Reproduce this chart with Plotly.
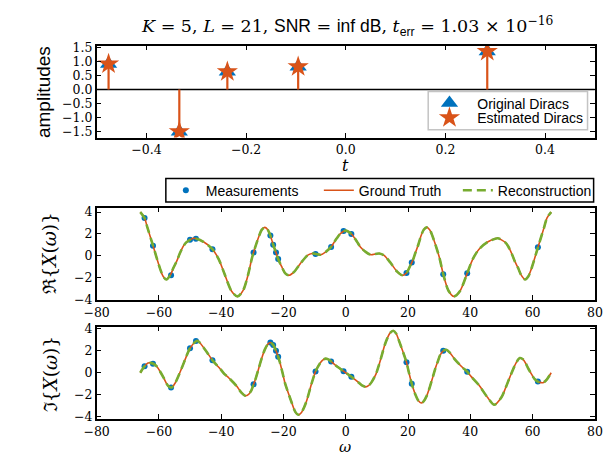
import plotly.graph_objects as go

# ---------------- data ----------------
dirac_t = [-0.476, -0.334, -0.2376, -0.0955, 0.284]
dirac_amp = [0.92, -1.52, 0.64, 0.82, 1.37]

re_w = [-65.97, -64.6, -63.7, -61.8, -59.6, -58.6, -57.6, -56.2, -55.4, -54.2, -53.3, -52.1,
        -51.3, -50.0, -48.8, -45.7, -42.8, -40.8, -39.0, -36.7, -34.75, -33.0, -31.35, -30.2,
        -29.6, -27.9, -27.0, -26.0, -25.1, -24.2, -23.3, -22.4, -21.7, -21.2, -20.6, -19.5,
        -18.25, -16.5, -14.5, -12.3, -10.8, -9.6, -8.0, -6.4, -4.7, -3.7, -3.0, -1.8, 0.0,
        1.8, 3.0, 3.7, 4.7, 6.4, 8.0, 9.6, 10.8, 12.3, 14.5, 16.5, 18.25, 19.5, 20.6, 21.2,
        21.7, 22.4, 23.3, 24.2, 25.1, 26.0, 27.0, 27.9, 29.6, 30.2, 31.35, 33.0, 34.75, 36.7,
        39.0, 40.8, 42.8, 45.7, 48.8, 50.0, 51.3, 52.1, 53.3, 54.2, 55.4, 56.2, 57.6, 58.6,
        59.6, 61.8, 63.7, 64.6, 65.97]
re_truth = [4.00, 3.45, 2.60, 0.85, -1.20, -1.90, -2.17, -1.70, -1.15, -0.45, 0.20, 0.90,
            1.20, 1.46, 1.60, 1.28, 0.60, -0.30, -1.60, -3.22, -3.72, -3.20, -1.73, -0.30,
            0.30, 1.77, 2.37, 2.60, 2.41, 1.85, 1.01, 0.30, -0.30, -0.62, -0.98, -1.58,
            -1.79, -1.45, -0.69, 0.03, 0.21, 0.17, 0.10, 0.36, 0.81, 1.25, 1.55, 2.00, 2.30,
            2.00, 1.55, 1.25, 0.81, 0.36, 0.10, 0.17, 0.21, 0.03, -0.69, -1.45, -1.79, -1.58,
            -0.98, -0.62, -0.30, 0.30, 1.01, 1.85, 2.41, 2.60, 2.37, 1.77, 0.30, -0.30, -1.73,
            -3.20, -3.72, -3.22, -1.60, -0.30, 0.60, 1.28, 1.60, 1.46, 1.20, 0.90, 0.20, -0.45,
            -1.15, -1.70, -2.17, -1.90, -1.20, 0.85, 2.60, 3.45, 4.00]

im_w = [-65.97, -64.6, -63.5, -62.8, -61.8, -60.6, -59.8, -58.5, -57.8, -57.0, -55.9, -54.7,
        -52.7, -51.3, -50.0, -47.7, -45.5, -42.7, -40.3, -39.0, -37.6, -35.1, -33.5, -32.3,
        -31.3, -30.3, -29.6, -29.0, -28.0, -27.0, -26.0, -25.0, -24.2, -23.35, -22.4, -21.7,
        -21.2, -20.3, -19.5, -18.0, -17.2, -16.2, -15.25, -14.2, -13.3, -12.5, -11.2, -10.5,
        -9.7, -8.3, -7.4, -6.4, -5.2, -4.3, -3.0, -1.8, -0.7, 0.0,
        0.7, 1.8, 3.0, 4.3, 5.2, 6.4, 7.4, 8.3, 9.7, 10.5, 11.2, 12.5, 13.3, 14.2, 15.25,
        16.2, 17.2, 18.0, 19.5, 20.3, 21.2, 21.7, 22.4, 23.35, 24.2, 25.0, 26.0, 27.0, 28.0,
        29.0, 29.6, 30.3, 31.3, 32.3, 33.5, 35.1, 37.6, 39.0, 40.3, 42.7, 45.5, 47.7, 50.0,
        51.3, 52.7, 54.7, 55.9, 57.0, 57.8, 58.5, 59.8, 60.6, 61.8, 62.8, 63.5, 64.6, 65.97]
im_truth = [0.00, 0.60, 0.88, 0.90, 0.82, 0.55, 0.20, -0.45, -0.85, -1.20, -1.34, -0.89,
            0.40, 1.40, 2.23, 2.91, 2.23, 1.10, 0.35, -0.10, -0.45, -1.19, -1.80, -2.08,
            -1.99, -1.60, -1.05, -0.60, 0.35, 1.30, 2.10, 2.60, 2.75, 2.55, 2.00, 1.45,
            1.00, 0.00, -0.95, -2.20, -2.83, -3.55, -3.82, -3.60, -3.10, -2.50, -1.20, -0.55,
            0.12, 0.85, 1.15, 1.28, 1.15, 0.93, 0.62, 0.37, 0.14, 0.00,
            -0.14, -0.37, -0.62, -0.93, -1.15, -1.28, -1.15, -0.85, -0.12, 0.55, 1.20, 2.50,
            3.10, 3.60, 3.82, 3.55, 2.83, 2.20, 0.95, 0.00, -1.00, -1.45, -2.00, -2.55, -2.75,
            -2.60, -2.10, -1.30, -0.35, 0.60, 1.05, 1.60, 1.99, 2.08, 1.80, 1.19, 0.45, 0.10,
            -0.35, -1.10, -2.23, -2.91, -2.23, -1.40, -0.40, 0.89, 1.34, 1.20, 0.85, 0.45,
            -0.20, -0.55, -0.82, -0.90, -0.88, -0.60, 0.00]

meas_w = [-64.6, -61.9, -56.1, -50.0, -48.1, -42.8, -29.6, -24.2, -23.3, -22.4, -21.7,
          -9.7, -4.7, -0.7, 1.8, 19.5, 21.2, 31.3, 39.0, 61.7]
meas_re = [3.45, 0.92, -1.79, 1.46, 1.57, 0.60, 0.30, 1.85, 1.01, 0.30, -0.30,
           0.17, 0.81, 2.26, 2.00, -1.58, -0.62, -1.68, -1.60, 0.78]
meas_im = [0.60, 0.82, -1.34, 2.23, 2.88, 1.13, -1.05, 2.75, 2.53, 2.00, 1.45,
           0.12, 1.03, 0.14, -0.37, 0.95, -1.00, 1.99, 0.10, -0.80]

x_ticks_t = [-0.4, -0.2, 0.0, 0.2, 0.4]
x_ticks_w = [-80, -60, -40, -20, 0, 20, 40, 60, 80]
y_ticks_amp = [-1.5, -1.0, -0.5, 0.0, 0.5, 1.0, 1.5]
y_ticks_x = [-4, -2, 0, 2, 4]

# ---------------- styling ----------------
BLUE = '#0072BD'
ORANGE = '#D95319'
GREEN = '#77AC30'
SERIF = 'DejaVu Serif'
SANS = 'Liberation Sans'
NB = '\u00a0'

W, H = 611, 455
def px_x(p):
    return p / W
def px_y(p):
    return 1 - p / H

fig = go.Figure()

# ---- top panel: Diracs ----
stem_x, stem_y = [], []
for t, a in zip(dirac_t, dirac_amp):
    stem_x += [t, t, None]
    stem_y += [0, a, None]

fig.add_trace(go.Scatter(x=dirac_t, y=dirac_amp, mode='markers', name=NB * 2 + 'Original Diracs',
                         marker=dict(symbol='triangle-up', size=15, color=BLUE, line=dict(width=0)),
                         xaxis='x', yaxis='y', legend='legend2'))
fig.add_trace(go.Scatter(x=stem_x, y=stem_y, mode='lines', showlegend=False,
                         line=dict(color=ORANGE, width=2.2), xaxis='x', yaxis='y',
                         hoverinfo='skip'))
fig.add_trace(go.Scatter(x=dirac_t, y=dirac_amp, mode='markers', name=NB * 2 + 'Estimated Diracs',
                         marker=dict(symbol='star', size=16, color=ORANGE, line=dict(width=0)),
                         xaxis='x', yaxis='y', legend='legend3'))

# ---- middle panel: real part ----
fig.add_trace(go.Scatter(x=meas_w, y=meas_re, mode='markers', name='Measurements',
                         legendwidth=108,
                         marker=dict(size=6, color=BLUE), xaxis='x2', yaxis='y2'))
fig.add_trace(go.Scatter(x=re_w, y=re_truth, mode='lines', name='Ground Truth',
                         legendwidth=94,
                         line=dict(color=ORANGE, width=1.6, shape='spline', smoothing=0.8),
                         xaxis='x2', yaxis='y2'))
fig.add_trace(go.Scatter(x=re_w, y=re_truth, mode='lines', name='Reconstruction',
                         legendwidth=96,
                         line=dict(color=GREEN, width=2.6, dash='9px,5px', shape='spline',
                                   smoothing=0.8),
                         xaxis='x2', yaxis='y2'))

# ---- bottom panel: imaginary part ----
fig.add_trace(go.Scatter(x=meas_w, y=meas_im, mode='markers', showlegend=False,
                         marker=dict(size=6, color=BLUE), xaxis='x3', yaxis='y3'))
fig.add_trace(go.Scatter(x=im_w, y=im_truth, mode='lines', showlegend=False,
                         line=dict(color=ORANGE, width=1.6, shape='spline', smoothing=0.8),
                         xaxis='x3', yaxis='y3'))
fig.add_trace(go.Scatter(x=im_w, y=im_truth, mode='lines', showlegend=False,
                         line=dict(color=GREEN, width=2.6, dash='9px,5px', shape='spline',
                                   smoothing=0.8),
                         xaxis='x3', yaxis='y3'))

axis_common = dict(showline=True, linecolor='black', linewidth=1.5, mirror='ticks',
                   ticks='inside', ticklen=5, tickwidth=1.2, tickcolor='black',
                   showgrid=False, zeroline=False,
                   tickfont=dict(family=SERIF, size=12.5, color='black'))

xdom = [px_x(78.3), px_x(594.3)]
legend_font = dict(family=SANS, size=14, color='black')
clear = 'rgba(0,0,0,0)'

fig.update_layout(
    width=W, height=H, autosize=False,
    margin=dict(l=0, r=0, t=0, b=0),
    paper_bgcolor='white', plot_bgcolor='white',
    xaxis=dict(axis_common, domain=xdom, range=[-0.5, 0.5], tickvals=x_ticks_t,
               tickformat='.1f', anchor='y'),
    yaxis=dict(axis_common, domain=[px_y(128), px_y(33.5)], range=[-1.73, 1.58],
               tickvals=y_ticks_amp, tickformat='.1f', anchor='x'),
    xaxis2=dict(axis_common, domain=xdom, range=[-80, 80], tickvals=x_ticks_w, anchor='y2'),
    yaxis2=dict(axis_common, domain=[px_y(295), px_y(200)], range=[-4.07, 4.4],
                tickvals=y_ticks_x, anchor='x2'),
    xaxis3=dict(axis_common, domain=xdom, range=[-80, 80], tickvals=x_ticks_w, anchor='y3'),
    yaxis3=dict(axis_common, domain=[px_y(417), px_y(322)], range=[-4.2, 4.2],
                tickvals=y_ticks_x, anchor='x3'),
    legend=dict(orientation='h', x=px_x(150), y=px_y(166), xanchor='left', yanchor='top',
                borderwidth=0, bgcolor=clear, font=legend_font),
    legend2=dict(orientation='v', x=px_x(423), y=px_y(76.5), xanchor='left', yanchor='top',
                 borderwidth=0, bgcolor=clear, font=legend_font),
    legend3=dict(orientation='v', x=px_x(423), y=px_y(91.5), xanchor='left', yanchor='top',
                 borderwidth=0, bgcolor=clear, font=legend_font),
    shapes=[
        dict(type='line', xref='x', yref='y', x0=-0.5, x1=0.5, y0=0, y1=0,
             line=dict(color='black', width=1.5), layer='below'),
        # legend frames
        dict(type='rect', xref='paper', yref='paper',
             x0=px_x(421.7), x1=px_x(586.7), y0=px_y(120), y1=px_y(80.5),
             line=dict(color='#c4c4c4', width=1.5), fillcolor='white', layer='above'),
        dict(type='rect', xref='paper', yref='paper',
             x0=px_x(150), x1=px_x(593), y0=px_y(194), y1=px_y(170),
             line=dict(color='black', width=1.5), fillcolor='white', layer='above'),
    ],
    showlegend=True,
)

title_html = ("<i>K</i> = 5, <i>L</i> = 21, "
              "<span style='font-family:Liberation Sans'>SNR</span> = "
              "<span style='font-family:Liberation Sans'>inf dB</span>, "
              "<i>t</i><sub><span style='font-family:Liberation Sans'>err</span></sub>"
              " = 1.03 × 10<sup>−16</sup>")

annotations = [
    dict(text=title_html, x=px_x(338), y=px_y(14), xref='paper', yref='paper',
         showarrow=False, xanchor='center', yanchor='middle',
         font=dict(family=SERIF, size=17.5, color='black')),
    dict(text='amplitudes', x=px_x(24), y=px_y(81), xref='paper', yref='paper',
         showarrow=False, textangle=-90, xanchor='center', yanchor='middle',
         font=dict(family=SANS, size=19, color='black')),
    dict(text='<i>t</i>', x=px_x(336), y=px_y(157), xref='paper', yref='paper',
         showarrow=False, xanchor='center', yanchor='middle',
         font=dict(family=SERIF, size=16, color='black')),
    dict(text='ℜ{<i>X</i>(<i>ω</i>)}', x=px_x(30), y=px_y(247), xref='paper', yref='paper',
         showarrow=False, textangle=-90, xanchor='center', yanchor='middle',
         font=dict(family=SERIF, size=18.5, color='black')),
    dict(text='ℑ{<i>X</i>(<i>ω</i>)}', x=px_x(30), y=px_y(371), xref='paper', yref='paper',
         showarrow=False, textangle=-90, xanchor='center', yanchor='middle',
         font=dict(family=SERIF, size=18.5, color='black')),
    dict(text='<i>ω</i>', x=px_x(336), y=px_y(446), xref='paper', yref='paper',
         showarrow=False, xanchor='center', yanchor='middle', height=12,
         font=dict(family=SERIF, size=15, color='black')),
]
fig.update_layout(annotations=annotations)

fig.write_html('out.html')
